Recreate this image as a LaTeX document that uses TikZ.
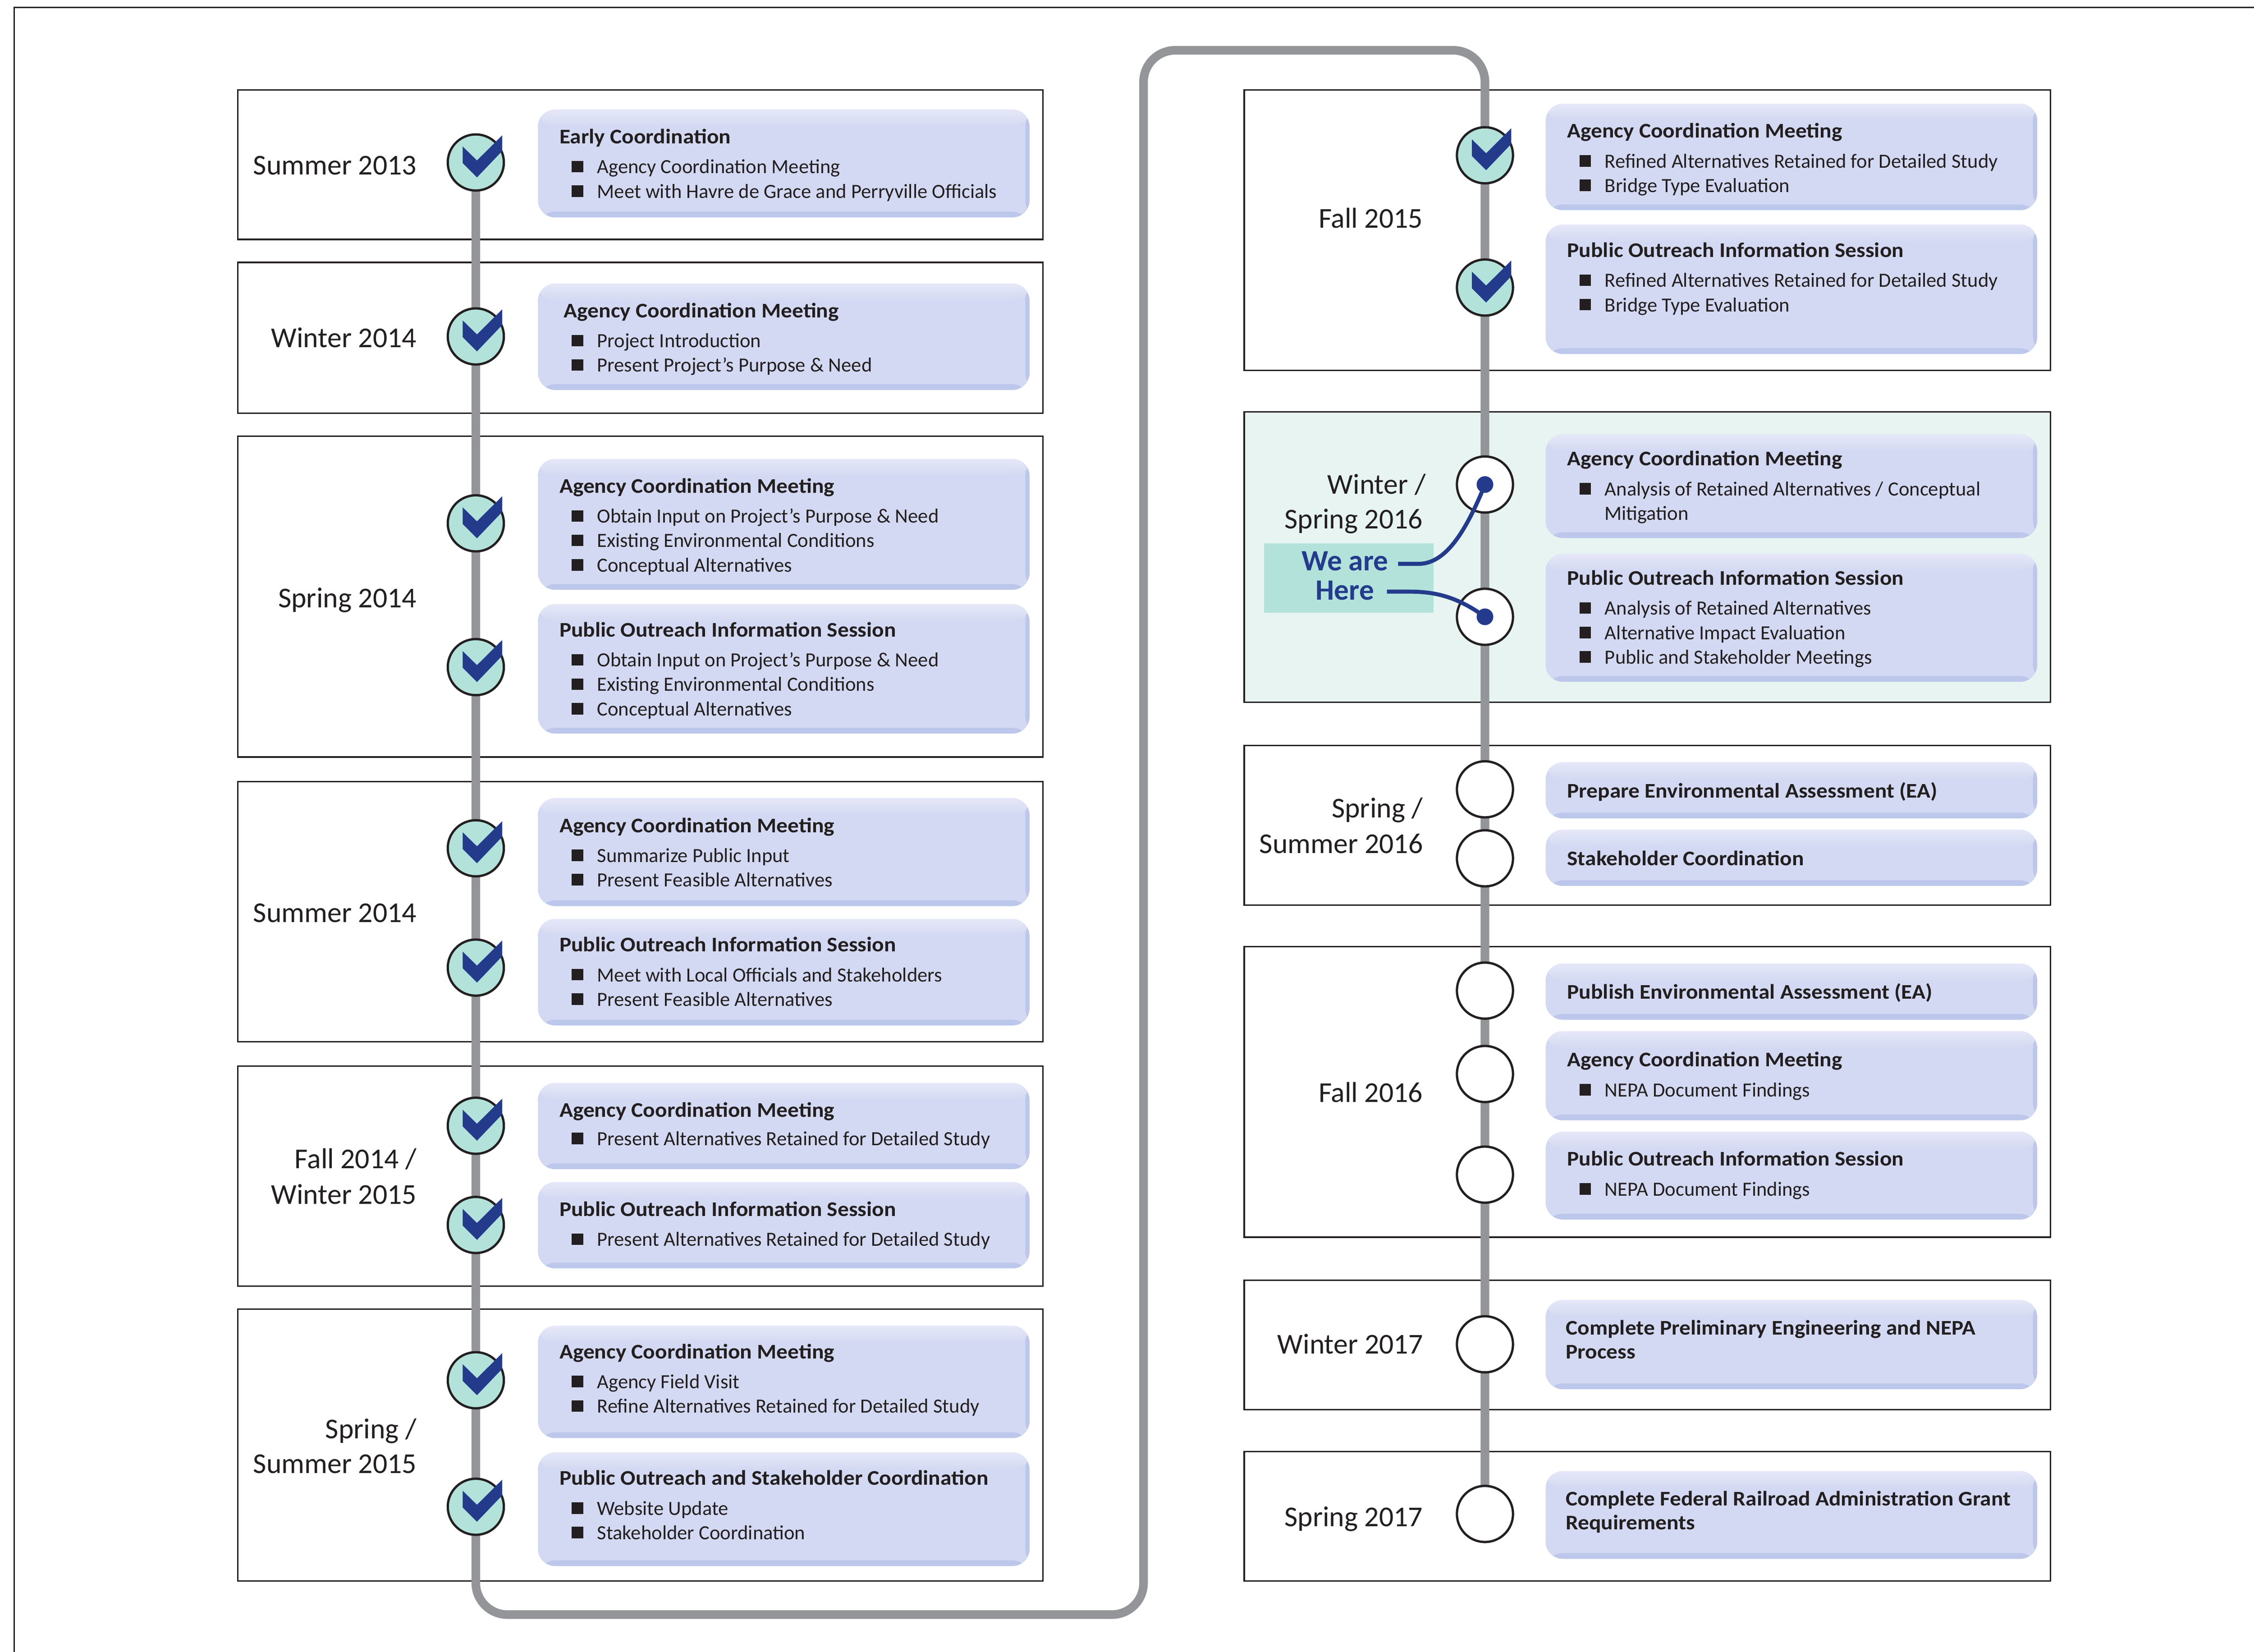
\documentclass[tikz,border=0pt]{standalone}
\usepackage{fontspec}
\setmainfont{Carlito}
\newfontfamily\ttlfont{Carlito}[FakeStretch=1.07]
\usetikzlibrary{calc}
\definecolor{ink}{HTML}{231F20}
\definecolor{tlgray}{HTML}{939598}
\definecolor{chkfill}{HTML}{B3E2DB}
\definecolor{chkblue}{HTML}{243B8C}
\definecolor{evmain}{HTML}{D3D9F2}
\definecolor{evtop}{HTML}{E6E8F8}
\definecolor{evedge}{HTML}{BCC7EB}
\definecolor{tealbg}{HTML}{E7F4F1}

\newcommand\EvBox[4]{\node[evbox, minimum height={#4-#3}] (#1) at (#2,#3) {};}
\newcommand\EvTitle[4]{\node[evtitle] (#1) at (#2,#3+4.9) {#4};}
\newcommand\EvBul[4]{\node[evbul] (#1) at (#2,#3+4.7) {\raisebox{0.8pt}{\rule{8pt}{8pt}}\hspace{9.7pt}#4};}
\newcommand\EvCont[4]{\node[evbul] (#1) at (#2,#3+4.7) {#4};}
\newcommand\PerLab[4]{\node[perlab] (#1) at (#2,#3+6.6) {#4};}
\newcommand\ChkNode[3]{\node[chkc] (#1) at (#2,#3) {};
  \fill[chkblue, shift={(#2,#3)}] (-9.1,-11.1) -- (0.8,-1.4) -- (18.3,-18.8) -- (18.3,-7.9) -- (0.8,10.4) -- (-9.1,0.5) -- cycle;}
\newcommand\OpenNode[3]{\node[openc] (#1) at (#2,#3) {};}

\begin{document}
\begin{tikzpicture}[x=1pt,y=-1pt,
  pbox/.style={draw=ink, line width=1pt, fill=white, inner sep=0, anchor=north west},
  evbox/.style={rectangle, rounded corners=12, inner sep=0, minimum width=342, fill=evmain, anchor=north west,
    path picture={
      \fill[evedge] ([yshift=4]path picture bounding box.south west) rectangle (path picture bounding box.south east);
      \fill[evedge] ([xshift=-3]path picture bounding box.north east) rectangle (path picture bounding box.south east);
      \shade[top color=evtop, bottom color=evmain] (path picture bounding box.north west) rectangle ([yshift=-12]path picture bounding box.north east);
    }},
  evtitle/.style={anchor=base west, inner sep=0, text=ink, font=\ttlfont\fontsize{14.5}{17}\selectfont\bfseries},
  evbul/.style={anchor=base west, inner sep=0, text=ink, font=\fontsize{14}{16}\selectfont},
  perlab/.style={anchor=base east, inner sep=0, text=ink, font=\fontsize{20}{24}\selectfont},
  chkc/.style={circle, draw=ink, line width=1.6pt, fill=chkfill, minimum size=39, inner sep=0},
  openc/.style={circle, draw=ink, line width=1.6pt, fill=white, minimum size=39, inner sep=0},
  dotc/.style={circle, fill=chkblue, minimum size=11.5, inner sep=0},
  tline/.style={draw=tlgray, line width=6pt, rounded corners=22},
  herec/.style={draw=chkblue, line width=2.8pt},
  heretxt/.style={anchor=base, inner sep=0, text=chkblue, font=\fontsize{20.5}{24}\selectfont\bfseries}
]
\useasboundingbox (0,0) rectangle (1568,1149);
\fill[white] (0,0) rectangle (1568,1149);
\draw[ink, line width=0.8pt] (9.8,1149) -- (9.8,5.2) -- (1568,5.2);

% period boxes
\node[pbox, minimum width=560, minimum height=104] (pL1) at (165,62) {};
\node[pbox, minimum width=560, minimum height=105] (pL2) at (165,182) {};
\node[pbox, minimum width=560, minimum height=223] (pL3) at (165,303) {};
\node[pbox, minimum width=560, minimum height=181] (pL4) at (165,543) {};
\node[pbox, minimum width=560, minimum height=153] (pL5) at (165,741) {};
\node[pbox, minimum width=560, minimum height=189] (pL6) at (165,910) {};
\node[pbox, minimum width=561, minimum height=195] (pR1) at (865,62) {};
\node[pbox, minimum width=561, minimum height=202, fill=tealbg] (pR2) at (865,286) {};
\node[pbox, minimum width=561, minimum height=111] (pR3) at (865,518) {};
\node[pbox, minimum width=561, minimum height=202] (pR4) at (865,658) {};
\node[pbox, minimum width=561, minimum height=90] (pR5) at (865,890) {};
\node[pbox, minimum width=561, minimum height=90] (pR6) at (865,1009) {};

% we are here box
\node[fill=chkfill, inner sep=0, anchor=north west, minimum width=118, minimum height=48.4] (hbox) at (879,377.6) {};

% timeline
\coordinate (tlA) at (331,1123);
\coordinate (tlB) at (795.5,1123);
\coordinate (tlC) at (795.5,35);
\coordinate (tlD) at (1033,35);
\coordinate (tlS) at (331,113);
\coordinate (tlE) at (1033,1053);
\draw[tline] (tlS) -- (tlA) -- (tlB) -- (tlC) -- (tlD) -- (tlE);

% left column markers
\ChkNode{cL1}{331}{113}
\ChkNode{cL2}{331}{234}
\ChkNode{cL3}{331}{364}
\ChkNode{cL4}{331}{464}
\ChkNode{cL5}{331}{590}
\ChkNode{cL6}{331}{673}
\ChkNode{cL7}{331}{783}
\ChkNode{cL8}{331}{852}
\ChkNode{cL9}{331}{960}
\ChkNode{cL10}{331}{1048}
% right column markers
\ChkNode{cR1}{1033}{108}
\ChkNode{cR2}{1033}{200}
\OpenNode{oR1}{1033}{337}
\OpenNode{oR2}{1033}{429}
\OpenNode{oR3}{1033}{549}
\OpenNode{oR4}{1033}{597}
\OpenNode{oR5}{1033}{689}
\OpenNode{oR6}{1033}{747}
\OpenNode{oR7}{1033}{817}
\OpenNode{oR8}{1033}{935}
\OpenNode{oR9}{1033}{1053}

% left event boxes
\EvBox{eL1}{374}{76}{151}
\EvTitle{eL1t}{389}{95}{Early Coordination}
\EvBul{eL1a}{397.5}{116}{Agency Coordination Meeting}
\EvBul{eL1b}{397.5}{133}{Meet with Havre de Grace and Perryville Officials}

\EvBox{eL2}{374}{197}{271}
\EvTitle{eL2t}{392}{216}{Agency Coordination Meeting}
\EvBul{eL2a}{397.5}{237}{Project Introduction}
\EvBul{eL2b}{397.5}{254}{Present Project’s Purpose \& Need}

\EvBox{eL3}{374}{319}{410}
\EvTitle{eL3t}{389}{338}{Agency Coordination Meeting}
\EvBul{eL3a}{397.5}{359}{Obtain Input on Project’s Purpose \& Need}
\EvBul{eL3b}{397.5}{376}{Existing Environmental Conditions}
\EvBul{eL3c}{397.5}{393}{Conceptual Alternatives}

\EvBox{eL4}{374}{420}{510}
\EvTitle{eL4t}{389}{438}{Public Outreach Information Session}
\EvBul{eL4a}{397.5}{459}{Obtain Input on Project’s Purpose \& Need}
\EvBul{eL4b}{397.5}{476}{Existing Environmental Conditions}
\EvBul{eL4c}{397.5}{493}{Conceptual Alternatives}

\EvBox{eL5}{374}{555}{630}
\EvTitle{eL5t}{389}{574}{Agency Coordination Meeting}
\EvBul{eL5a}{397.5}{595}{Summarize Public Input}
\EvBul{eL5b}{397.5}{612}{Present Feasible Alternatives}

\EvBox{eL6}{374}{639}{713}
\EvTitle{eL6t}{389}{657}{Public Outreach Information Session}
\EvBul{eL6a}{397.5}{678}{Meet with Local Officials and Stakeholders}
\EvBul{eL6b}{397.5}{695}{Present Feasible Alternatives}

\EvBox{eL7}{374}{753}{813}
\EvTitle{eL7t}{389}{772}{Agency Coordination Meeting}
\EvBul{eL7a}{397.5}{792}{Present Alternatives Retained for Detailed Study}

\EvBox{eL8}{374}{822}{882}
\EvTitle{eL8t}{389}{841}{Public Outreach Information Session}
\EvBul{eL8a}{397.5}{862}{Present Alternatives Retained for Detailed Study}

\EvBox{eL9}{374}{922}{1000}
\EvTitle{eL9t}{389}{940}{Agency Coordination Meeting}
\EvBul{eL9a}{397.5}{961}{Agency Field Visit}
\EvBul{eL9b}{397.5}{978}{Refine Alternatives Retained for Detailed Study}

\EvBox{eL10}{374}{1010}{1089}
\EvTitle{eL10t}{389}{1028}{Public Outreach and Stakeholder Coordination}
\EvBul{eL10a}{397.5}{1049}{Website Update}
\EvBul{eL10b}{397.5}{1066}{Stakeholder Coordination}

% right event boxes
\EvBox{eR1}{1075}{72}{146}
\EvTitle{eR1t}{1090}{91}{Agency Coordination Meeting}
\EvBul{eR1a}{1098.5}{112}{Refined Alternatives Retained for Detailed Study}
\EvBul{eR1b}{1098.5}{129}{Bridge Type Evaluation}

\EvBox{eR2}{1075}{156}{246}
\EvTitle{eR2t}{1090}{174}{Public Outreach Information Session}
\EvBul{eR2a}{1098.5}{195}{Refined Alternatives Retained for Detailed Study}
\EvBul{eR2b}{1098.5}{212}{Bridge Type Evaluation}

\EvBox{eR3}{1075}{302}{374}
\EvTitle{eR3t}{1090}{319}{Agency Coordination Meeting}
\EvBul{eR3a}{1098.5}{340}{Analysis of Retained Alternatives / Conceptual}
\EvCont{eR3b}{1116}{357}{Mitigation}

\EvBox{eR4}{1075}{385}{474}
\EvTitle{eR4t}{1090}{402}{Public Outreach Information Session}
\EvBul{eR4a}{1098.5}{423}{Analysis of Retained Alternatives}
\EvBul{eR4b}{1098.5}{440}{Alternative Impact Evaluation}
\EvBul{eR4c}{1098.5}{457}{Public and Stakeholder Meetings}

\EvBox{eR5}{1075}{530}{569}
\EvTitle{eR5t}{1090}{550}{Prepare Environmental Assessment (EA)}

\EvBox{eR6}{1075}{577}{616}
\EvTitle{eR6t}{1090}{597}{Stakeholder Coordination}

\EvBox{eR7}{1075}{670}{709}
\EvTitle{eR7t}{1090}{690}{Publish Environmental Assessment (EA)}

\EvBox{eR8}{1075}{717}{779}
\EvTitle{eR8t}{1090}{737}{Agency Coordination Meeting}
\EvBul{eR8a}{1098.5}{758}{NEPA Document Findings}

\EvBox{eR9}{1075}{787}{848}
\EvTitle{eR9t}{1090}{806}{Public Outreach Information Session}
\EvBul{eR9a}{1098.5}{827}{NEPA Document Findings}

\EvBox{eR10}{1075}{904}{966}
\EvTitle{eR10t}{1089}{923.5}{Complete Preliminary Engineering and NEPA}
\EvTitle{eR10u}{1089}{940}{Process}

\EvBox{eR11}{1075}{1023}{1084}
\EvTitle{eR11t}{1089}{1042.5}{Complete Federal Railroad Administration Grant}
\EvTitle{eR11u}{1089}{1059}{Requirements}

% period labels
\PerLab{lL1}{290}{115}{Summer 2013}
\PerLab{lL2}{290}{235}{Winter 2014}
\PerLab{lL3}{290}{416}{Spring 2014}
\PerLab{lL4}{290}{635}{Summer 2014}
\PerLab{lL5a}{290}{806}{Fall 2014 /}
\PerLab{lL5b}{290}{831}{Winter 2015}
\PerLab{lL6a}{290}{994}{Spring /}
\PerLab{lL6b}{290}{1018}{Summer 2015}
\PerLab{lR1}{990}{152}{Fall 2015}
\PerLab{lR2a}{992}{337}{Winter /}
\PerLab{lR2b}{990}{361}{Spring 2016}
\PerLab{lR3a}{990}{562}{Spring /}
\PerLab{lR3b}{990}{587}{Summer 2016}
\PerLab{lR4}{990}{760}{Fall 2016}
\PerLab{lR5}{990}{935}{Winter 2017}
\PerLab{lR6}{990}{1055}{Spring 2017}

% we are here
\node[heretxt] (weare) at (935.6,397) {We are};
\node[heretxt] (here) at (935.6,417.3) {Here};
\node[dotc] (dR1) at (oR1) {};
\node[dotc] (dR2) at (oR2) {};
\draw[herec] ($(weare.base east)+(6.6,-4.8)$) -- ++(14,0) .. controls (1004,392.2) and (1018,374) .. (dR1.center);
\draw[herec] ($(here.base east)+(8.7,-5.8)$) -- ++(16,0) .. controls (1000,411.5) and (1015,416) .. (dR2.center);
\node[dotc] (dR1b) at (dR1) {};
\node[dotc] (dR2b) at (dR2) {};
\end{tikzpicture}
\end{document}
